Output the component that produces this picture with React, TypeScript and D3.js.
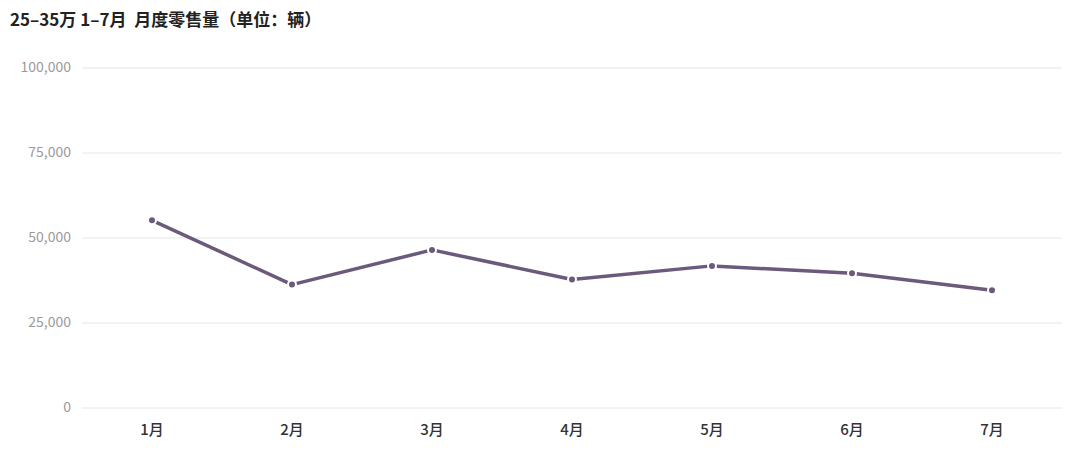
import { useEffect } from "react";
import * as d3 from "d3";

const months = ["1月", "2月", "3月", "4月", "5月", "6月", "7月"];
const sales = [55200, 36300, 46500, 37800, 41800, 39600, 34600];
const yTicks = [0, 25000, 50000, 75000, 100000];

const WIDTH = 1080;
const HEIGHT = 461;
const MARGIN = { top: 68, right: 18, bottom: 53, left: 82 };

export default function App() {
  useEffect(() => {
    document.body.style.margin = "0";
  }, []);

  const boundsWidth = WIDTH - MARGIN.left - MARGIN.right;
  const boundsHeight = HEIGHT - MARGIN.top - MARGIN.bottom;

  const x = d3.scaleBand().domain(months).range([0, boundsWidth]);
  const y = d3.scaleLinear().domain([0, 100000]).range([boundsHeight, 0]);

  const cx = (m: string) => (x(m) ?? 0) + x.bandwidth() / 2;

  const line = d3
    .line<number>()
    .x((_, i) => cx(months[i]))
    .y((d) => y(d));

  const fmt = d3.format(",");
  const font = "'Noto Sans CJK SC', 'Noto Sans', sans-serif";

  return (
    <svg width={WIDTH} height={HEIGHT} style={{ display: "block", fontFamily: font }}>
      <rect width={WIDTH} height={HEIGHT} fill="white" />
      <text x={10} y={26} fontSize={17} fontWeight="bold" fill="#222" style={{ whiteSpace: "pre" }}>
        25–35万 1–7月  月度零售量（单位：辆）
      </text>
      <g transform={`translate(${MARGIN.left}, ${MARGIN.top})`}>
        {yTicks.map((t) => (
          <g key={t}>
            <line
              x1={0}
              x2={boundsWidth}
              y1={y(t)}
              y2={y(t)}
              stroke="#e6e6e6"
              strokeWidth={1}
            />
            <text
              x={-11}
              y={y(t)}
              textAnchor="end"
              dominantBaseline="middle"
              fontSize={14}
              fill="#9a9a9a"
            >
              {fmt(t)}
            </text>
          </g>
        ))}
        {months.map((m) => (
          <text
            key={m}
            x={cx(m)}
            y={boundsHeight + 23}
            textAnchor="middle"
            dominantBaseline="middle"
            fontSize={15}
            fontWeight={500}
            fill="#333"
          >
            {m}
          </text>
        ))}
        <path
          d={line(sales) ?? ""}
          fill="none"
          stroke="#6b5a7b"
          strokeWidth={3.5}
          strokeLinejoin="round"
        />
        {sales.map((v, i) => (
          <circle
            key={months[i]}
            cx={cx(months[i])}
            cy={y(v)}
            r={4}
            fill="#6b5a7b"
            stroke="white"
            strokeWidth={2}
          />
        ))}
      </g>
    </svg>
  );
}
